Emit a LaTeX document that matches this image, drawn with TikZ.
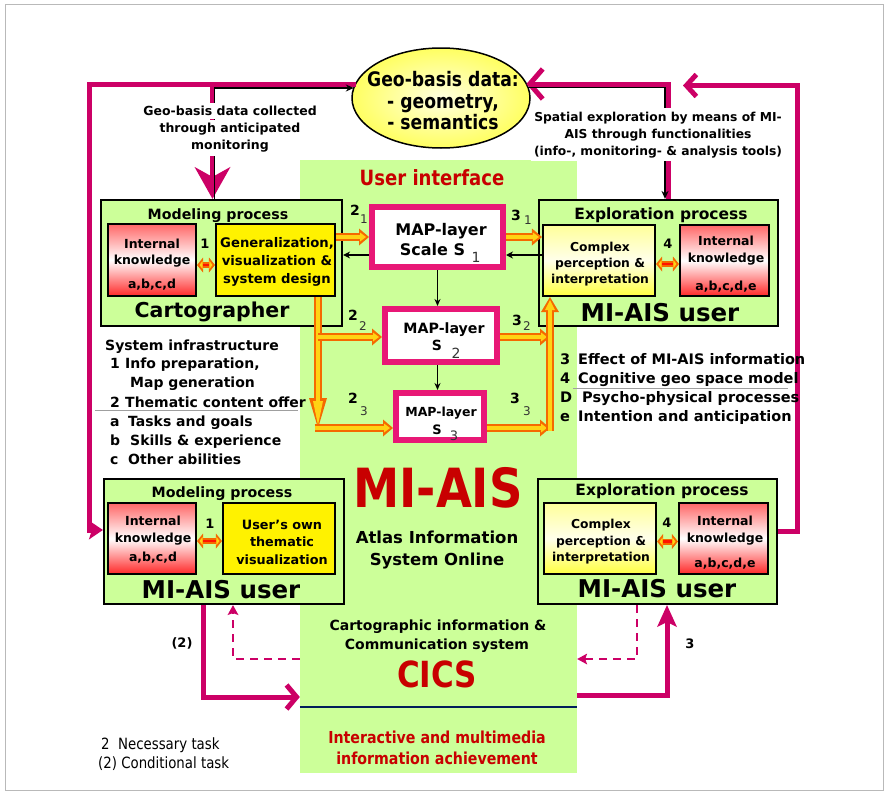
\documentclass[tikz,border=0pt]{standalone}
\usepackage{fontspec}
\setmainfont{DejaVu Sans}
\newfontfamily\cond[FakeStretch=0.86]{DejaVu Sans}
\usetikzlibrary{arrows.meta,shapes.geometric,calc}
\definecolor{magc}{RGB}{204,0,102}
\definecolor{mapc}{RGB}{232,24,118}
\definecolor{lgreen}{RGB}{204,255,153}
\definecolor{dred}{RGB}{200,0,0}
\definecolor{oedge}{RGB}{245,105,0}
\definecolor{ofill}{RGB}{255,210,20}
\definecolor{navy2}{RGB}{0,30,90}
\newcommand\fz[1]{\fontsize{#1}{#1}\selectfont}
\newcommand\opath[3]{\draw[oout,-{Triangle[#2,line width=0pt 0]}] #1; \draw[oin,-{Triangle[#3,line width=0pt 0]},shorten >=3pt] #1;}
\newcommand\darrow[2]{\draw[draw=oedge,line width=6pt,{Triangle[length=6pt,width=15pt,line width=0pt 0]}-{Triangle[length=6pt,width=15pt,line width=0pt 0]}] #1 -- #2; \draw[draw=red!85!orange,line width=2.5pt,{Triangle[length=3pt,width=8pt,line width=0pt 0,color=ofill]}-{Triangle[length=3pt,width=8pt,line width=0pt 0,color=ofill]},shorten <=2.5pt,shorten >=2.5pt] #1 -- #2;}
\begin{document}
\begin{tikzpicture}[x=1pt,y=-1pt,
 tb/.style={inner sep=0pt, anchor=base, font=\bfseries\fz{#1}},
 tbl/.style={inner sep=0pt, anchor=base west, font=\bfseries\fz{#1}},
 tcb/.style={inner sep=0pt, anchor=base, font=\cond\bfseries\fz{#1}},
 tcl/.style={inner sep=0pt, anchor=base west, font=\cond\fz{#1}},
 tr/.style={inner sep=0pt, anchor=base, font=\fz{#1}, text=black!80},
 obox/.style={draw=black, line width=2.2pt, fill=lgreen, inner sep=0pt},
 ikbox/.style={draw=black, line width=1.6pt, top color=red!60, bottom color=red!85, middle color=white, inner sep=0pt},
 ylbox/.style={draw=black, line width=1.6pt, fill=yellow, inner sep=0pt},
 cpbox/.style={draw=black, line width=1.6pt, top color=yellow!40, bottom color=yellow!75, middle color=yellow!8, inner sep=0pt},
 mapbox/.style={draw=mapc, line width=6pt, fill=white, inner sep=0pt},
 magl/.style={draw=magc, line width=5pt},
 magd/.style={draw=magc, line width=2.5pt, dash pattern=on 8pt off 6pt},
 blk/.style={draw=black, line width=1.3pt},
 oout/.style={draw=oedge, line width=7.5pt},
 oin/.style={draw=ofill, line width=3.5pt},
 wbg/.style={fill=white, inner sep=3.5pt}
]
\useasboundingbox (0,0) rectangle (888,795);
\fill[white] (0,0) rectangle (888,795);
\draw[gray!55, line width=1pt] (5,4.5) rectangle (883.5,790.5);

% helper coordinates
\coordinate (y707) at (0,707);
\coordinate (r1) at (0,237);
\coordinate (rb) at (0,255);
\coordinate (r2) at (0,337);
\coordinate (r3) at (0,428);
\coordinate (r3b) at (0,431);
\coordinate (xo1) at (318,0);
\coordinate (xo1b) at (314.5,0);
\coordinate (xo2) at (550,0);
\coordinate (d1) at (0,265);
\coordinate (d2) at (0,264);
\coordinate (d3) at (0,541);
\coordinate (d4) at (0,541.5);

% central panel
\node[fill=lgreen, inner sep=0pt, minimum width=277pt, minimum height=613pt] (panel) at (438.5,466.5) {};
\draw[navy2, line width=2.5pt] (panel.west |- y707) -- (panel.east |- y707);

% boxes
\node[obox, minimum width=241pt, minimum height=126pt] (mpA) at (221.5,263) {};
\node[ikbox, minimum width=88.5pt, minimum height=72.5pt] (ikA) at (152,260) {};
\node[ylbox, minimum width=119.5pt, minimum height=72.5pt] (gvA) at (275.5,260) {};
\node[obox, minimum width=239pt, minimum height=126pt] (epA) at (658.5,263) {};
\node[cpbox, minimum width=112.5pt, minimum height=71.5pt] (cpA) at (599,260.5) {};
\node[ikbox, minimum width=89.5pt, minimum height=71.5pt] (ikB) at (724.5,260.5) {};
\node[obox, minimum width=240pt, minimum height=125pt] (mpB) at (224,541.5) {};
\node[ikbox, minimum width=88.5pt, minimum height=71.5pt] (ikC) at (152,538.5) {};
\node[ylbox, minimum width=112.5pt, minimum height=71.5pt] (uvC) at (279,538.5) {};
\node[obox, minimum width=239pt, minimum height=125pt] (epB) at (657.5,541.5) {};
\node[cpbox, minimum width=112.5pt, minimum height=71.5pt] (cpD) at (600,538.5) {};
\node[ikbox, minimum width=89.5pt, minimum height=71.5pt] (ikD) at (723.5,538.5) {};

\node[mapbox, minimum width=131pt, minimum height=60pt] (S1) at (437.5,237) {};
\node[mapbox, minimum width=112pt, minimum height=53pt] (S2) at (441,335.5) {};
\node[mapbox, minimum width=88pt, minimum height=47pt] (S3) at (440,416.5) {};

\node[ellipse, draw=black, line width=1.5pt, inner color=yellow!12, outer color=yellow!62, minimum width=178pt, minimum height=100pt, inner sep=0pt] (ell) at (441,98) {};

% ellipse attachment points
\coordinate (eL) at ($(ell.center)+(-85.4,-14)$);
\coordinate (eLb) at ($(ell.center)+(-87.2,-10)$);
\coordinate (eR) at ($(ell.center)+(85.4,-14)$);
\coordinate (eRb) at ($(ell.center)+(87.4,-10.5)$);

% magenta connectors (top)
\coordinate (cTL) at (212.5,84);
\coordinate (cOL) at (89.5,84);
\coordinate (y530) at (0,530);
\draw[magl,-{Stealth[length=32pt,width=36pt,inset=10pt,line width=0pt 0]}] (eL) -- (cTL) -- (cTL |- mpA.north);
\draw[magl,-{Stealth[length=14pt,width=19pt,inset=3pt,line width=0pt 0]}] (cTL) -- (cOL) -- (cOL |- y530) -- (mpB.west |- y530);
\coordinate (cTLb) at (214.5,88);
\draw[blk,-{Stealth[length=8pt,width=7pt]}] (cTLb |- mpA.north) -- (cTLb) -- (eLb);

\coordinate (cTR) at (668,84);
\draw[magl,-{Straight Barb[length=13pt,width=30pt]}] (cTR |- epA.north) -- (cTR) -- (eR);
\coordinate (cTRb) at (665,87.5);
\draw[blk,-{Stealth[length=8pt,width=7pt]}] (eRb) -- (cTRb) -- (cTRb |- epA.north);

\coordinate (cOR) at (797.5,85.5);
\coordinate (endR) at (683,85.5);
\coordinate (y531) at (0,531);
\draw[magl,-{Straight Barb[length=10pt,width=22pt]}] (epB.east |- y531) -- (cOR |- y531) -- (cOR) -- (endR);

% magenta connectors (bottom)
\coordinate (xL1) at (203,0);
\coordinate (xL2) at (233,0);
\coordinate (xR1) at (667,0);
\coordinate (xR2) at (637,0);
\coordinate (y697) at (0,697);
\coordinate (y659) at (0,659);
\coordinate (y695) at (0,695);
\draw[magl,-{Straight Barb[length=10pt,width=24pt]}] (xL1 |- mpB.south) -- (xL1 |- y697) -- (panel.west |- y697);
\draw[magd,-{Stealth[length=10pt,width=11pt,inset=2pt,line width=0pt 0]}] (panel.west |- y659) -- (xL2 |- y659) -- (xL2 |- mpB.south);
\draw[magl,-{Stealth[length=22pt,width=20pt,inset=5pt,line width=0pt 0]}] (panel.east |- y695) -- (xR1 |- y695) -- (xR1 |- epB.south);
\draw[magd,-{Stealth[length=10pt,width=11pt,inset=2pt,line width=0pt 0]}] (xR2 |- epB.south) -- (xR2 |- y659) -- (panel.east |- y659);

% black map arrows
\draw[blk,-{Stealth[length=7pt,width=7pt]}] (cpA.west |- rb) -- (S1.east |- rb);
\draw[blk,-{Stealth[length=7pt,width=7pt]}] (S1.west |- rb) -- (mpA.east |- rb);
\draw[blk,-{Stealth[length=7pt,width=6pt]}] (S1.south) -- (S1.south |- S2.north);
\draw[blk,-{Stealth[length=7pt,width=6pt]}] (S1.south |- S2.south) -- (S1.south |- S3.north);

% orange arrows
\opath{(gvA.east |- r1) -- (S1.west |- r1)}{length=10pt,width=17pt}{length=6pt,width=9pt}
\opath{(S1.east |- r1) -- (cpA.west |- r1)}{length=10pt,width=17pt}{length=6pt,width=9pt}
\opath{(xo1 |- gvA.south) -- (xo1 |- r3)}{length=30pt,width=18pt}{length=24pt,width=10pt}
\opath{(xo1 |- r2) -- (S2.west |- r2)}{length=10pt,width=17pt}{length=6pt,width=9pt}
\opath{(xo1b |- r3) -- (S3.west |- r3)}{length=10pt,width=17pt}{length=6pt,width=9pt}
\opath{(S2.east |- r2) -- (xo2 |- r2)}{length=10pt,width=17pt}{length=6pt,width=9pt}
\opath{(S3.east |- r3) -- (xo2 |- r3)}{length=10pt,width=17pt}{length=6pt,width=9pt}
\opath{(xo2 |- r3b) -- (xo2 |- cpA.south)}{length=15pt,width=18pt}{length=10pt,width=10pt}

% double arrows
\darrow{(ikA.east |- d1)}{(gvA.west |- d1)}
\darrow{(cpA.east |- d2)}{(ikB.west |- d2)}
\darrow{(ikC.east |- d3)}{(uvC.west |- d3)}
\darrow{(cpD.east |- d4)}{(ikD.west |- d4)}

% ellipse text
\node[tcb=20] (g1) at (443,86) {Geo-basis data:};
\node[tcb=20] (g2) at (443,108) {- geometry,};
\node[tcb=20] (g3) at (443,129) {- semantics};

% top labels
\node[tb=12.5, wbg] (n1) at (230,115.5) {Geo-basis data collected};
\node[tb=12.5, wbg] (n2) at (230,132.5) {through anticipated};
\node[tb=12.5, wbg] (n3) at (230,149.5) {monitoring};
\node[tb=12.3, wbg] (m1) at (658,121) {Spatial exploration by means of MI-};
\node[tb=12.3, wbg] (m2) at (658,138) {AIS through functionalities};
\node[tb=12.3, wbg] (m3) at (658,155) {(info-, monitoring- \& analysis tools)};

\node[tcb=21, text=dred] (ui) at (432,185.5) {User interface};

% top-left box texts
\node[tb=14.2] (mA1) at (218,219) {Modeling process};
\node[tb=20.5] (mA2) at (212,317) {Cartographer};
\node[tb=12.5] (kA1) at (152,248) {Internal};
\node[tb=12.5] (kA2) at (152,264) {knowledge};
\node[tb=12.5] (kA3) at (152,288) {a,b,c,d};
\node[tb=13.2] (vA1) at (277,247) {Generalization,};
\node[tb=13.2] (vA2) at (277,265) {visualization \&};
\node[tb=13.2] (vA3) at (277,283) {system design};
\node[tb=13] (one1) at (205,248) {1};

% top-right box texts
\node[tb=15.5] (eA1) at (661,219) {Exploration process};
\node[tb=24.5] (eA2) at (660,321) {MI-AIS user};
\node[tb=12.3] (cA1) at (600,251) {Complex};
\node[tb=12.3] (cA2) at (600,267) {perception \&};
\node[tb=12.3] (cA3) at (600,283) {interpretation};
\node[tb=12.5] (kB1) at (726,245) {Internal};
\node[tb=12.5] (kB2) at (726,262) {knowledge};
\node[tb=12.5] (kB3) at (726,290) {a,b,c,d,e};
\node[tb=13] (four1) at (668,248) {4};

% lower-left box texts
\node[tb=14.2] (mB1) at (222,497) {Modeling process};
\node[tb=24.5] (mB2) at (221,598) {MI-AIS user};
\node[tb=12.5] (kC1) at (153,525) {Internal};
\node[tb=12.5] (kC2) at (153,542) {knowledge};
\node[tb=12.5] (kC3) at (153,561) {a,b,c,d};
\node[tb=12.8] (vC1) at (282,529) {User’s own};
\node[tb=12.8] (vC2) at (282,546) {thematic};
\node[tb=12.8] (vC3) at (282,564) {visualization};
\node[tb=13] (one2) at (210,528) {1};

% lower-right box texts
\node[tb=15.5] (eB1) at (662,495) {Exploration process};
\node[tb=24.5] (eB2) at (657,597) {MI-AIS user};
\node[tb=12.3] (cD1) at (601,528) {Complex};
\node[tb=12.3] (cD2) at (601,545) {perception \&};
\node[tb=12.3] (cD3) at (601,561) {interpretation};
\node[tb=12.5] (kD1) at (725,525) {Internal};
\node[tb=12.5] (kD2) at (725,542) {knowledge};
\node[tb=12.5] (kD3) at (725,567) {a,b,c,d,e};
\node[tb=13] (four2) at (667,527) {4};

% map layer texts
\node[tb=16] (s1a) at (441,235) {MAP-layer};
\node[tb=16] (s1b) at (432.5,255) {Scale S};
\node[tr=14] (s1c) at (476,262) {1};
\node[tb=14.2] (s2a) at (444,333) {MAP-layer};
\node[tb=14] (s2b) at (437,350) {S};
\node[tr=14] (s2c) at (456,358) {2};
\node[tb=12.5] (s3a) at (441,416) {MAP-layer};
\node[tb=13] (s3b) at (437,434) {S};
\node[tr=13] (s3c) at (454,440) {3};

% index labels
\node[tb=14] (l21) at (355,215) {2};
\node[tr=12] (l21s) at (364,223) {1};
\node[tb=14] (l31) at (516,220) {3};
\node[tr=12] (l31s) at (528,224) {1};
\node[tb=14] (l22) at (353,320) {2};
\node[tr=12] (l22s) at (363,330) {2};
\node[tb=14] (l32) at (517,325) {3};
\node[tr=12] (l32s) at (527,330) {2};
\node[tb=14] (l23) at (353,403) {2};
\node[tr=12] (l23s) at (364,415) {3};
\node[tb=14] (l33) at (515,403) {3};
\node[tr=12] (l33s) at (527,415) {3};

% left list
\node[tbl=14] (ls0) at (105,350) {System infrastructure};
\node[tbl=14] (ls1a) at (110,368) {1};
\node[tbl=14] (ls1b) at (125,368) {Info preparation,};
\node[tbl=14] (ls1c) at (130,387) {Map generation};
\node[tbl=14] (ls2a) at (110,407) {2};
\node[tbl=14] (ls2b) at (125,407) {Thematic content offer};
\draw[gray!75, line width=1pt] (95,410.5) -- (298,410.5);
\node[tbl=14] (lsa) at (110,426) {a};
\node[tbl=14] (lsa2) at (128,426) {Tasks and goals};
\node[tbl=14] (lsb) at (110,445) {b};
\node[tbl=14] (lsb2) at (130,445) {Skills \& experience};
\node[tbl=14] (lsc) at (110,464) {c};
\node[tbl=14] (lsc2) at (128,464) {Other abilities};

% right list
\node[tbl=14.5] (rs3) at (560,364) {3};
\node[tbl=14.5] (rs3b) at (578,364) {Effect of MI-AIS information};
\node[tbl=14.5] (rs4) at (560,383) {4};
\node[tbl=14.5] (rs4b) at (578,383) {Cognitive geo space model};
\draw[gray!75, line width=1pt] (573,388.5) -- (788,388.5);
\node[tbl=14.5] (rsD) at (560,402) {D};
\node[tbl=14.5] (rsDb) at (582,402) {Psycho-physical processes};
\node[tbl=14.5] (rse) at (560,421) {e};
\node[tbl=14.5] (rseb) at (578,421) {Intention and anticipation};

% central texts
\node[tcb=54, text=dred] (mi) at (438,507) {MI-AIS};
\node[tb=16.5] (at1) at (437,543) {Atlas Information};
\node[tb=16.5] (at2) at (437,565) {System Online};
\node[tb=14] (ca1) at (438,630) {Cartographic information \&};
\node[tb=14] (ca2) at (437,649) {Communication system};
\node[tcb=36, text=dred] (cics) at (437,687) {CICS};
\node[tcb=16.5, text=dred] (ia1) at (437,743) {Interactive and multimedia};
\node[tcb=16.5, text=dred] (ia2) at (437,764) {information achievement};

% bottom labels
\node[tb=13] (p2) at (182,647) {(2)};
\node[tb=13] (p3) at (690,648) {3};
\node[tcl=15.5] (lg1) at (101,749) {2\ \ Necessary task};
\node[tcl=15.5] (lg2) at (98,768) {(2) Conditional task};
\end{tikzpicture}
\end{document}
